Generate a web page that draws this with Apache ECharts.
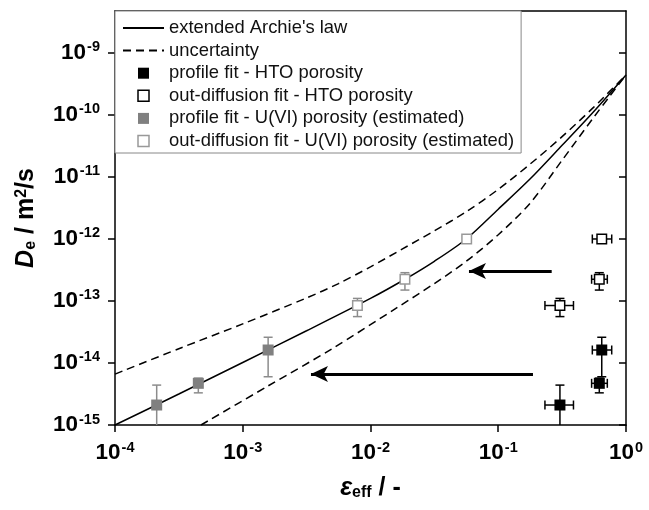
<!DOCTYPE html>
<html>
<head>
<meta charset="utf-8">
<script src="https://cdn.jsdelivr.net/npm/echarts@6/dist/echarts.min.js"></script>
<style>
html, body { margin: 0; padding: 0; background: #fff; }
#main { width: 649px; height: 510px; }
</style>
</head>
<body>
<div id="main"></div>
<script>
var chartDom = document.getElementById('main');
var myChart = echarts.init(chartDom, null, { renderer: 'canvas' });

// extended Archie's law
var archieX = [1e-4, 3.16e-4, 1e-3, 3.16e-3, 1e-2, 1.86e-2, 3.16e-2, 5.62e-2, 0.1, 0.178, 0.316, 0.562, 1];
var archieY = [1.0e-15, 3.16e-15, 1.02e-14, 3.31e-14, 1.10e-13, 2.24e-13, 4.37e-13, 1.0e-12, 3.02e-12, 9.33e-12, 3.24e-11, 1.15e-10, 4.42e-10];
// uncertainty band
var upperX = [1e-4, 3.16e-4, 1e-3, 3.16e-3, 5.62e-3, 1e-2, 1.78e-2, 3.16e-2, 5.62e-2, 0.1, 0.178, 0.316, 0.562, 1];
var upperY = [6.61e-15, 1.70e-14, 4.27e-14, 1.12e-13, 1.91e-13, 3.55e-13, 6.92e-13, 1.35e-12, 2.75e-12, 6.31e-12, 1.62e-11, 4.47e-11, 1.35e-10, 4.42e-10];
var lowerX = [4.71e-4, 1.58e-3, 5.01e-3, 1.58e-2, 3.16e-2, 5.62e-2, 0.1, 0.178, 0.316, 0.562, 0.75, 1];
var lowerY = [1.0e-15, 4.27e-15, 1.70e-14, 7.59e-14, 1.91e-13, 4.37e-13, 1.17e-12, 3.80e-12, 1.86e-11, 9.33e-11, 2.04e-10, 4.42e-10];

// measured De, first 3 = profile fit, last 3 = out-diffusion fit
var deValue = [2.1e-15, 4.7e-15, 1.62e-14, 8.45e-14, 2.24e-13, 1.0e-12];
var deLow = [9e-16, 3.3e-15, 6.0e-15, 5.6e-14, 1.5e-13, 0.9e-12];
var deHigh = [4.4e-15, 5.7e-15, 2.6e-14, 1.1e-13, 2.86e-13, 1.12e-12];
var htoPor = [0.304, 0.618, 0.646, 0.304, 0.618, 0.646];
var htoPorLow = [0.232, 0.538, 0.545, 0.232, 0.538, 0.545];
var htoPorHigh = [0.388, 0.714, 0.773, 0.388, 0.714, 0.773];
var uviPor = [2.12e-4, 4.49e-4, 1.58e-3, 7.9e-3, 1.86e-2, 5.66e-2];

// arrows (start, tip)
var arrowStart = [[0.262, 3.05e-13], [0.187, 6.65e-15]];
var arrowEnd = [[5.9e-2, 3.05e-13], [3.42e-3, 6.65e-15]];

var xTicks = [1e-4, 1e-3, 1e-2, 1e-1, 1];
var yTicks = [1e-15, 1e-14, 1e-13, 1e-12, 1e-11, 1e-10, 1e-9];

var font = 'Liberation Sans';
var grayFill = '#808080';
var grayLine = '#999999';

function pairs(xs, ys) {
    return xs.map(function (x, i) { return [x, ys[i]]; });
}

function decadeLabel(v) {
    var p = Math.log10(v);
    var e = Math.round(p);
    if (Math.abs(p - e) > 1e-6) return '';
    return '{b|10}{s|' + e + '}';
}

var labelRich = {
    b: { fontSize: 22.5, fontWeight: 'bold', fontFamily: font, color: '#000', lineHeight: 26 },
    s: { fontSize: 14.5, fontWeight: 'bold', fontFamily: font, color: '#000', lineHeight: 14, verticalAlign: 'top', padding: [0, 0, 0, 1] }
};

function nameRich() {
    return {
        i: { fontSize: 25, fontWeight: 'bold', fontStyle: 'italic', fontFamily: font, color: '#000' },
        sub: { fontSize: 16, fontWeight: 'bold', fontFamily: font, color: '#000', verticalAlign: 'bottom', lineHeight: 15 },
        sup: { fontSize: 16, fontWeight: 'bold', fontFamily: font, color: '#000', verticalAlign: 'top', lineHeight: 15 },
        n: { fontSize: 25, fontWeight: 'bold', fontFamily: font, color: '#000' }
    };
}

function errorBars(color) {
    return function (params, api) {
        var cs = params.coordSys;
        var bottom = cs.y + cs.height;
        var x = api.value(0), y = api.value(1);
        var c = api.coord([x, y]);
        var yl = api.value(2), yh = api.value(3), xl = api.value(4), xh = api.value(5);
        var cap = 4.5;
        var kids = [];
        function seg(x1, y1, x2, y2) {
            kids.push({ type: 'line', shape: { x1: x1, y1: y1, x2: x2, y2: y2 }, style: { stroke: color, lineWidth: 1.5 } });
        }
        if (yl > 0) {
            var pl = api.coord([x, yl])[1];
            var ph = api.coord([x, yh])[1];
            seg(c[0], ph, c[0], Math.min(pl, bottom));
            seg(c[0] - cap, ph, c[0] + cap, ph);
            if (pl <= bottom) seg(c[0] - cap, pl, c[0] + cap, pl);
        }
        if (xl > 0) {
            var ql = api.coord([xl, y])[0];
            var qh = api.coord([xh, y])[0];
            seg(ql, c[1], qh, c[1]);
            seg(ql, c[1] - cap, ql, c[1] + cap);
            seg(qh, c[1] - cap, qh, c[1] + cap);
        }
        return { type: 'group', children: kids };
    };
}

var grayErr = uviPor.map(function (p, i) { return [p, deValue[i], deLow[i], deHigh[i], 0, 0]; });
var blackErr = htoPor.map(function (p, i) { return [p, deValue[i], deLow[i], deHigh[i], htoPorLow[i], htoPorHigh[i]]; });

var square = 'path://M0,0L10,0L10,10L0,10Z';

var option = {
    animation: false,
    backgroundColor: '#fff',
    grid: { left: 115, right: 23, top: 11, bottom: 85, outerBoundsMode: 'none' },
    legend: {
        left: 115, top: 11, orient: 'vertical',
        padding: [8, 7, 3, 7], itemGap: 4.6, itemWidth: 41, itemHeight: 11,
        backgroundColor: '#fff', borderColor: '#888', borderWidth: 1,
        selectedMode: false,
        textStyle: { fontFamily: font, fontSize: 18.4, lineHeight: 18, color: '#111' },
        data: [
            { name: "extended Archie's law", itemStyle: { color: 'rgba(0,0,0,0)', borderWidth: 0 } },
            { name: 'uncertainty', itemStyle: { color: 'rgba(0,0,0,0)', borderWidth: 0 } },
            { name: 'profile fit - HTO porosity', icon: square, itemStyle: { color: '#000', borderWidth: 0 } },
            { name: 'out-diffusion fit - HTO porosity', icon: square, itemStyle: { color: '#fff', borderColor: '#000', borderWidth: 1.5 } },
            { name: 'profile fit - U(VI) porosity (estimated)', icon: square, itemStyle: { color: grayFill, borderWidth: 0 } },
            { name: 'out-diffusion fit - U(VI) porosity (estimated)', icon: square, itemStyle: { color: '#fff', borderColor: grayLine, borderWidth: 1.5 } }
        ]
    },
    xAxis: [{
        type: 'log', logBase: 10, min: 1e-4, max: 1,
        name: '{i|ε}{sub|eff}{n| / -}',
        nameLocation: 'middle', nameGap: 51,
        nameTextStyle: { rich: nameRich() },
        axisLine: { lineStyle: { color: '#000', width: 1.5 } },
        axisTick: { length: 7, lineStyle: { width: 1.5, color: '#000' }, customValues: xTicks },
        axisLabel: { margin: 15, formatter: decadeLabel, rich: labelRich, customValues: xTicks },
        splitLine: { show: false },
        minorTick: { show: false }
    }, {
        type: 'log', logBase: 10, min: 1e-4, max: 1, position: 'top',
        axisLine: { lineStyle: { color: '#000', width: 1.5 } },
        axisTick: { show: false },
        axisLabel: { show: false },
        splitLine: { show: false }
    }],
    yAxis: [{
        type: 'log', logBase: 10, min: 1e-15, max: 4.75e-9,
        name: '{i|D}{sub|e}{n| / m}{sup|2}{n|/s}',
        nameLocation: 'middle', nameGap: 76,
        nameTextStyle: { rich: nameRich() },
        axisLine: { lineStyle: { color: '#000', width: 1.5 } },
        axisTick: { length: 7, lineStyle: { width: 1.5, color: '#000' }, customValues: yTicks },
        axisLabel: { margin: 15, formatter: decadeLabel, rich: labelRich, customValues: yTicks },
        splitLine: { show: false }
    }, {
        type: 'log', logBase: 10, min: 1e-15, max: 4.75e-9, position: 'right',
        axisLine: { show: true, lineStyle: { color: '#000', width: 1.5 } },
        axisTick: { inside: true, length: 7, lineStyle: { width: 1.5, color: '#000' }, customValues: yTicks },
        axisLabel: { show: false },
        splitLine: { show: false }
    }],
    series: [{
        name: "extended Archie's law",
        type: 'line',
        data: pairs(archieX, archieY),
        symbol: 'none',
        smooth: 0.3,
        lineStyle: { color: '#000', width: 1.5 },
        itemStyle: { color: '#000' },
        z: 2,
        markLine: {
            silent: true,
            symbol: ['none', 'arrow'],
            symbolSize: [12, 17],
            label: { show: false },
            lineStyle: { color: '#000', width: 3, type: 'solid' },
            data: arrowStart.map(function (s, i) {
                return [{ coord: s }, { coord: arrowEnd[i] }];
            })
        }
    }, {
        name: 'uncertainty',
        type: 'line',
        data: pairs(upperX, upperY),
        symbol: 'none',
        smooth: 0.3,
        lineStyle: { color: '#000', width: 1.5, type: [8, 5] },
        itemStyle: { color: '#000' },
        z: 2
    }, {
        name: 'uncertainty',
        type: 'line',
        data: pairs(lowerX, lowerY),
        symbol: 'none',
        smooth: 0.3,
        lineStyle: { color: '#000', width: 1.5, type: [8, 5] },
        itemStyle: { color: '#000' },
        z: 2
    }, {
        name: 'err-uvi',
        type: 'custom',
        renderItem: errorBars('#8c8c8c'),
        encode: { x: 0, y: 1 },
        data: grayErr,
        z: 3
    }, {
        name: 'err-hto',
        type: 'custom',
        renderItem: errorBars('#000'),
        encode: { x: 0, y: 1 },
        data: blackErr,
        z: 3
    }, {
        name: 'profile fit - HTO porosity',
        type: 'scatter',
        symbol: 'rect', symbolSize: 11,
        itemStyle: { color: '#000', opacity: 1 },
        data: pairs(htoPor.slice(0, 3), deValue.slice(0, 3)),
        z: 4
    }, {
        name: 'out-diffusion fit - HTO porosity',
        type: 'scatter',
        symbol: 'rect', symbolSize: 9.5,
        itemStyle: { color: '#fff', borderColor: '#000', borderWidth: 1.5, opacity: 1 },
        data: pairs(htoPor.slice(3), deValue.slice(3)),
        z: 4
    }, {
        name: 'profile fit - U(VI) porosity (estimated)',
        type: 'scatter',
        symbol: 'rect', symbolSize: 11,
        itemStyle: { color: grayFill, opacity: 1 },
        data: pairs(uviPor.slice(0, 3), deValue.slice(0, 3)),
        z: 4
    }, {
        name: 'out-diffusion fit - U(VI) porosity (estimated)',
        type: 'scatter',
        symbol: 'rect', symbolSize: 9.5,
        itemStyle: { color: '#fff', borderColor: grayLine, borderWidth: 1.5, opacity: 1 },
        data: pairs(uviPor.slice(3), deValue.slice(3)),
        z: 4
    }]
};

option && myChart.setOption(option);
</script>
</body>
</html>
